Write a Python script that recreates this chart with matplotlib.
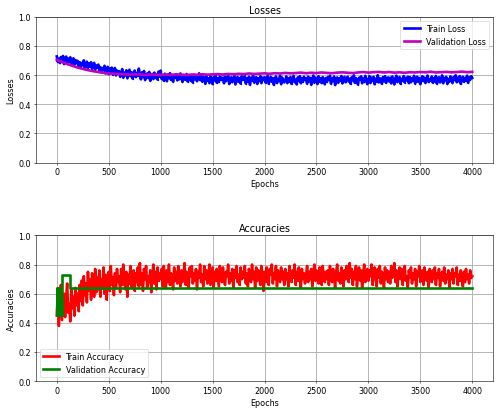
import numpy as np
import matplotlib
matplotlib.use("Agg")
import matplotlib.pyplot as plt

# Epoch grid for the training curves (every 10 epochs) and validation loss (every 50)
train_epochs = np.arange(0, 4001, 10)
val_loss_epochs = np.arange(0, 4001, 50)

train_loss = [
    0.728, 0.690, 0.712, 0.683, 0.724, 0.698, 0.731, 0.676, 0.705, 0.727, 0.684, 0.713, 0.690, 0.722, 0.668, 0.699, 0.715, 0.672, 0.703, 0.681,
    0.698, 0.661, 0.689, 0.652, 0.683, 0.668, 0.701, 0.645, 0.677, 0.692, 0.650, 0.681, 0.659, 0.688, 0.641, 0.670, 0.684, 0.638, 0.666, 0.653,
    0.672, 0.629, 0.655, 0.618, 0.648, 0.633, 0.664, 0.611, 0.641, 0.657, 0.606, 0.645, 0.624, 0.651, 0.603, 0.637, 0.649, 0.598, 0.631, 0.619,
    0.627, 0.589, 0.611, 0.641, 0.583, 0.616, 0.598, 0.633, 0.578, 0.606, 0.637, 0.592, 0.620, 0.576, 0.609, 0.631, 0.586, 0.614, 0.595, 0.645,
    0.604, 0.571, 0.619, 0.586, 0.628, 0.566, 0.598, 0.611, 0.580, 0.622, 0.561, 0.594, 0.608, 0.573, 0.617, 0.583, 0.605, 0.569, 0.624, 0.590,
    0.631, 0.574, 0.596, 0.562, 0.609, 0.587, 0.558, 0.603, 0.579, 0.613, 0.567, 0.590, 0.555, 0.600, 0.582, 0.606, 0.564, 0.594, 0.571, 0.611,
    0.585, 0.553, 0.600, 0.569, 0.591, 0.607, 0.556, 0.581, 0.598, 0.560, 0.588, 0.549, 0.603, 0.572, 0.594, 0.558, 0.584, 0.612, 0.566, 0.591,
    0.556, 0.590, 0.571, 0.541, 0.598, 0.561, 0.579, 0.545, 0.593, 0.574, 0.538, 0.586, 0.564, 0.600, 0.548, 0.576, 0.553, 0.591, 0.567, 0.582,
    0.581, 0.544, 0.590, 0.559, 0.573, 0.597, 0.539, 0.568, 0.585, 0.551, 0.577, 0.594, 0.536, 0.563, 0.588, 0.554, 0.580, 0.542, 0.592, 0.570,
    0.567, 0.594, 0.542, 0.576, 0.555, 0.589, 0.534, 0.581, 0.563, 0.597, 0.549, 0.572, 0.586, 0.540, 0.578, 0.559, 0.592, 0.545, 0.583, 0.566,
    0.585, 0.549, 0.576, 0.594, 0.541, 0.565, 0.588, 0.554, 0.580, 0.533, 0.571, 0.591, 0.546, 0.574, 0.559, 0.596, 0.538, 0.583, 0.562, 0.550,
    0.564, 0.591, 0.545, 0.579, 0.556, 0.587, 0.540, 0.573, 0.595, 0.551, 0.568, 0.536, 0.584, 0.560, 0.593, 0.544, 0.577, 0.555, 0.589, 0.567,
    0.576, 0.542, 0.590, 0.558, 0.581, 0.534, 0.569, 0.597, 0.548, 0.583, 0.563, 0.539, 0.592, 0.554, 0.578, 0.545, 0.586, 0.571, 0.537, 0.580,
    0.553, 0.587, 0.566, 0.596, 0.541, 0.575, 0.559, 0.590, 0.532, 0.570, 0.584, 0.548, 0.579, 0.562, 0.594, 0.543, 0.572, 0.588, 0.551, 0.577,
    0.589, 0.556, 0.574, 0.540, 0.585, 0.565, 0.598, 0.547, 0.580, 0.559, 0.535, 0.582, 0.568, 0.591, 0.544, 0.576, 0.553, 0.595, 0.564, 0.538,
    0.571, 0.593, 0.546, 0.583, 0.560, 0.588, 0.537, 0.575, 0.555, 0.599, 0.550, 0.579, 0.565, 0.541, 0.586, 0.558, 0.592, 0.547, 0.573, 0.584,
    0.557, 0.582, 0.543, 0.590, 0.569, 0.536, 0.578, 0.596, 0.552, 0.567, 0.587, 0.540, 0.574, 0.561, 0.593, 0.549, 0.581, 0.564, 0.589, 0.545,
    0.586, 0.551, 0.577, 0.563, 0.595, 0.542, 0.572, 0.589, 0.554, 0.580, 0.538, 0.569, 0.592, 0.559, 0.583, 0.546, 0.575, 0.597, 0.553, 0.568,
    0.562, 0.590, 0.548, 0.579, 0.556, 0.594, 0.541, 0.576, 0.585, 0.550, 0.571, 0.598, 0.544, 0.581, 0.565, 0.588, 0.539, 0.573, 0.555, 0.591,
    0.577, 0.545, 0.587, 0.566, 0.599, 0.551, 0.582, 0.558, 0.593, 0.540, 0.574, 0.589, 0.554, 0.580, 0.563, 0.596, 0.547, 0.584, 0.569, 0.592,
    0.581,
]

val_loss = [
    0.705, 0.690, 0.676, 0.664, 0.652, 0.643, 0.634, 0.627, 0.621, 0.616,
    0.612, 0.609, 0.607, 0.606, 0.603, 0.605, 0.604, 0.601, 0.604, 0.603,
    0.601, 0.604, 0.602, 0.605, 0.603, 0.600, 0.604, 0.602, 0.606, 0.603,
    0.605, 0.607, 0.604, 0.608, 0.606, 0.609, 0.607, 0.611, 0.608, 0.610,
    0.612, 0.609, 0.613, 0.611, 0.615, 0.612, 0.614, 0.617, 0.613, 0.616,
    0.614, 0.618, 0.615, 0.613, 0.617, 0.619, 0.616, 0.614, 0.618, 0.621,
    0.617, 0.620, 0.622, 0.618, 0.621, 0.617, 0.619, 0.616, 0.620, 0.618,
    0.621, 0.619, 0.623, 0.618, 0.620, 0.622, 0.619, 0.621, 0.624, 0.620,
    0.622,
]

train_acc = [
    0.45, 0.62, 0.38, 0.55, 0.66, 0.42, 0.51, 0.60, 0.44, 0.57, 0.67, 0.47, 0.53, 0.41, 0.63, 0.50, 0.58, 0.45, 0.64, 0.52,
    0.60, 0.48, 0.66, 0.55, 0.69, 0.52, 0.72, 0.59, 0.67, 0.54, 0.75, 0.62, 0.70, 0.56, 0.74, 0.64, 0.58, 0.77, 0.61, 0.71,
    0.63, 0.76, 0.58, 0.70, 0.65, 0.78, 0.60, 0.73, 0.56, 0.69, 0.75, 0.62, 0.79, 0.66, 0.71, 0.59, 0.74, 0.64, 0.77, 0.68,
    0.72, 0.61, 0.77, 0.66, 0.80, 0.69, 0.63, 0.75, 0.58, 0.73, 0.67, 0.79, 0.64, 0.71, 0.76, 0.62, 0.74, 0.68, 0.78, 0.65,
    0.81, 0.66, 0.74, 0.62, 0.77, 0.70, 0.79, 0.64, 0.72, 0.68, 0.76, 0.61, 0.73, 0.80, 0.67, 0.75, 0.63, 0.78, 0.69, 0.74,
    0.70, 0.77, 0.65, 0.79, 0.72, 0.64, 0.76, 0.68, 0.80, 0.66, 0.74, 0.71, 0.63, 0.78, 0.69, 0.75, 0.67, 0.79, 0.73, 0.65,
    0.76, 0.68, 0.73, 0.81, 0.66, 0.75, 0.70, 0.64, 0.78, 0.72, 0.79, 0.67, 0.74, 0.69, 0.77, 0.63, 0.75, 0.71, 0.80, 0.68,
    0.73, 0.65, 0.79, 0.70, 0.76, 0.67, 0.74, 0.80, 0.66, 0.72, 0.78, 0.64, 0.75, 0.69, 0.77, 0.71, 0.65, 0.79, 0.73, 0.68,
    0.78, 0.70, 0.66, 0.75, 0.72, 0.80, 0.67, 0.74, 0.69, 0.77, 0.64, 0.76, 0.71, 0.79, 0.68, 0.73, 0.66, 0.78, 0.70, 0.75,
    0.71, 0.79, 0.67, 0.74, 0.65, 0.77, 0.72, 0.68, 0.80, 0.70, 0.75, 0.64, 0.78, 0.69, 0.76, 0.72, 0.66, 0.79, 0.73, 0.62,
    0.75, 0.68, 0.78, 0.71, 0.66, 0.77, 0.73, 0.80, 0.67, 0.74, 0.70, 0.79, 0.65, 0.76, 0.72, 0.68, 0.78, 0.70, 0.75, 0.66,
    0.77, 0.70, 0.74, 0.65, 0.79, 0.72, 0.68, 0.76, 0.71, 0.80, 0.66, 0.75, 0.69, 0.78, 0.73, 0.64, 0.77, 0.70, 0.74, 0.67,
    0.72, 0.79, 0.68, 0.75, 0.70, 0.77, 0.65, 0.74, 0.80, 0.69, 0.76, 0.71, 0.67, 0.78, 0.73, 0.66, 0.79, 0.72, 0.68, 0.75,
    0.70, 0.76, 0.66, 0.79, 0.73, 0.68, 0.77, 0.71, 0.64, 0.75, 0.80, 0.69, 0.74, 0.67, 0.78, 0.72, 0.65, 0.76, 0.70, 0.79,
    0.74, 0.68, 0.81, 0.71, 0.77, 0.66, 0.75, 0.70, 0.79, 0.65, 0.73, 0.78, 0.69, 0.76, 0.64, 0.74, 0.80, 0.68, 0.72, 0.77,
    0.69, 0.76, 0.72, 0.80, 0.66, 0.74, 0.78, 0.70, 0.65, 0.77, 0.71, 0.79, 0.67, 0.75, 0.73, 0.64, 0.78, 0.70, 0.76, 0.68,
    0.75, 0.67, 0.79, 0.71, 0.74, 0.81, 0.68, 0.76, 0.65, 0.73, 0.78, 0.70, 0.77, 0.66, 0.74, 0.79, 0.69, 0.72, 0.64, 0.76,
    0.71, 0.78, 0.67, 0.74, 0.70, 0.77, 0.65, 0.75, 0.72, 0.79, 0.68, 0.73, 0.76, 0.66, 0.78, 0.71, 0.69, 0.75, 0.64, 0.77,
    0.73, 0.68, 0.76, 0.70, 0.78, 0.66, 0.74, 0.71, 0.77, 0.65, 0.72, 0.75, 0.69, 0.78, 0.67, 0.73, 0.70, 0.76, 0.64, 0.74,
    0.70, 0.77, 0.67, 0.74, 0.72, 0.78, 0.66, 0.73, 0.69, 0.76, 0.71, 0.65, 0.75, 0.68, 0.77, 0.70, 0.73, 0.67, 0.76, 0.71,
    0.72,
]

# Validation accuracy: value changes (epoch where a new value starts)
val_acc_epochs = [0, 2, 5, 8, 12, 15, 18, 22, 26, 30, 34, 38, 42, 46, 50, 130, 4000]
val_acc = [0.4545, 0.6364, 0.4545, 0.5455, 0.4545, 0.6364, 0.5455, 0.4545, 0.5455,
           0.4545, 0.5455, 0.4545, 0.5455, 0.4545, 0.7273, 0.6364, 0.6364]

plt.rcParams['font.size'] = 11.5

fig, (ax1, ax2) = plt.subplots(2, 1, figsize=(10, 8.28), dpi=50)
fig.subplots_adjust(left=0.072, right=0.986, top=0.957, bottom=0.077, hspace=0.5)

lw = 3.8
ax1.plot(train_epochs, train_loss, color='blue', marker='.', markersize=2, lw=lw, label='Train Loss')
ax1.plot(val_loss_epochs, val_loss, color='m', marker='.', markersize=2, lw=lw, label='Validation Loss')
ax1.set_title('Losses')
ax1.set_xlabel('Epochs')
ax1.set_ylabel('Losses')
ax1.set_ylim(0, 1)
ax1.grid(True, lw=1.3)
ax1.legend(loc='upper right')

ax2.plot(train_epochs, train_acc, color='red', marker='.', markersize=2, lw=lw, label='Train Accuracy')
ax2.plot(val_acc_epochs, val_acc, color='green', marker='.', markersize=2, lw=lw,
         drawstyle='steps-post', label='Validation Accuracy')
ax2.set_title('Accuracies')
ax2.set_xlabel('Epochs')
ax2.set_ylabel('Accuracies')
ax2.set_ylim(0, 1)
ax2.grid(True, lw=1.3)
ax2.legend(loc='lower left')

for ax in (ax1, ax2):
    ax.set_xlim(-200, 4200)

fig.savefig('out.png', dpi=50)
